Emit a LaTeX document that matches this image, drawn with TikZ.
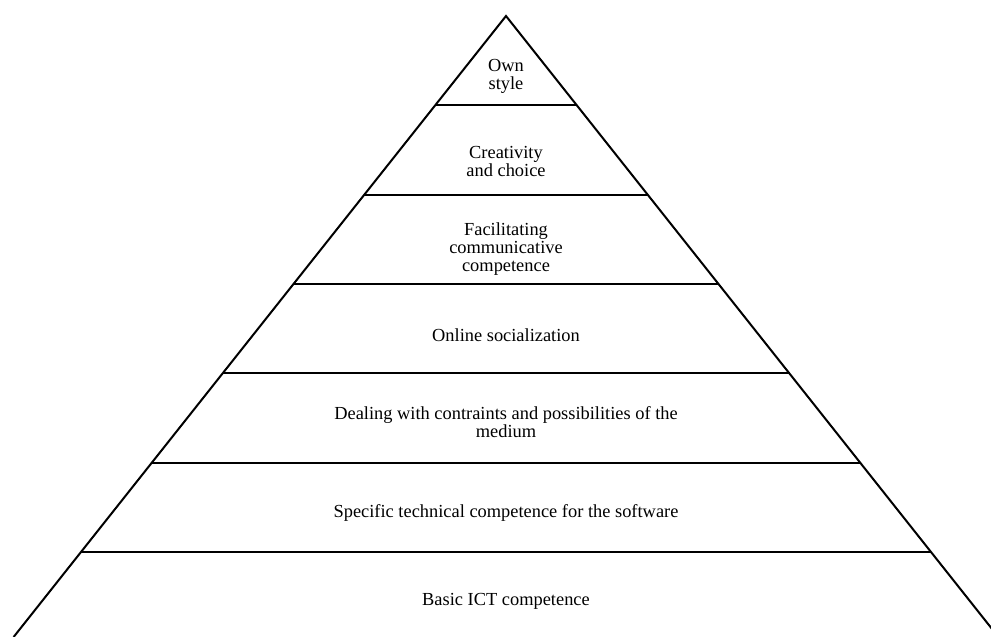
\documentclass[tikz,border=0pt]{standalone}
\usepackage{fontspec}
\setmainfont{Liberation Serif}
\begin{document}
\begin{tikzpicture}[x=1pt,y=-1pt,
  edge/.style={line width=2pt, line join=miter},
  tier/.style={font=\fontsize{18.4}{17.8}\selectfont, align=center, anchor=base, inner sep=0pt}]
\useasboundingbox (0,0) rectangle (991,637);
\begin{scope}
  \clip (0,0) rectangle (991,637);
  % outline of the pyramid
  \coordinate (apex) at (506,16);
  \coordinate (bl) at (13.6,637);
  \coordinate (br) at (998.4,637);
  \draw[edge] (bl) -- (apex) -- (br);
  % dividing lines between the levels
  \foreach \k in {1,...,6}{
    \pgfmathsetmacro\yy{16+89.333*\k}
    \pgfmathsetmacro\hw{0.7929*89.333*\k}
    \draw[edge] (506-\hw,\yy) -- (506+\hw,\yy);
  }
\end{scope}
% labels, placed at the baseline of their last line
\node[tier] (l1) at (506,89)  {Own\\style};
\node[tier] (l2) at (506,176) {Creativity\\and choice};
\node[tier] (l3) at (506,271) {Facilitating\\communicative\\competence};
\node[tier] (l4) at (506,341) {Online socialization};
\node[tier] (l5) at (506,437.5) {Dealing with contraints and possibilities of the\\medium};
\node[tier] (l6) at (506,517) {Specific technical competence for the software};
\node[tier] (l7) at (506,605) {Basic ICT competence};
\end{tikzpicture}
\end{document}
